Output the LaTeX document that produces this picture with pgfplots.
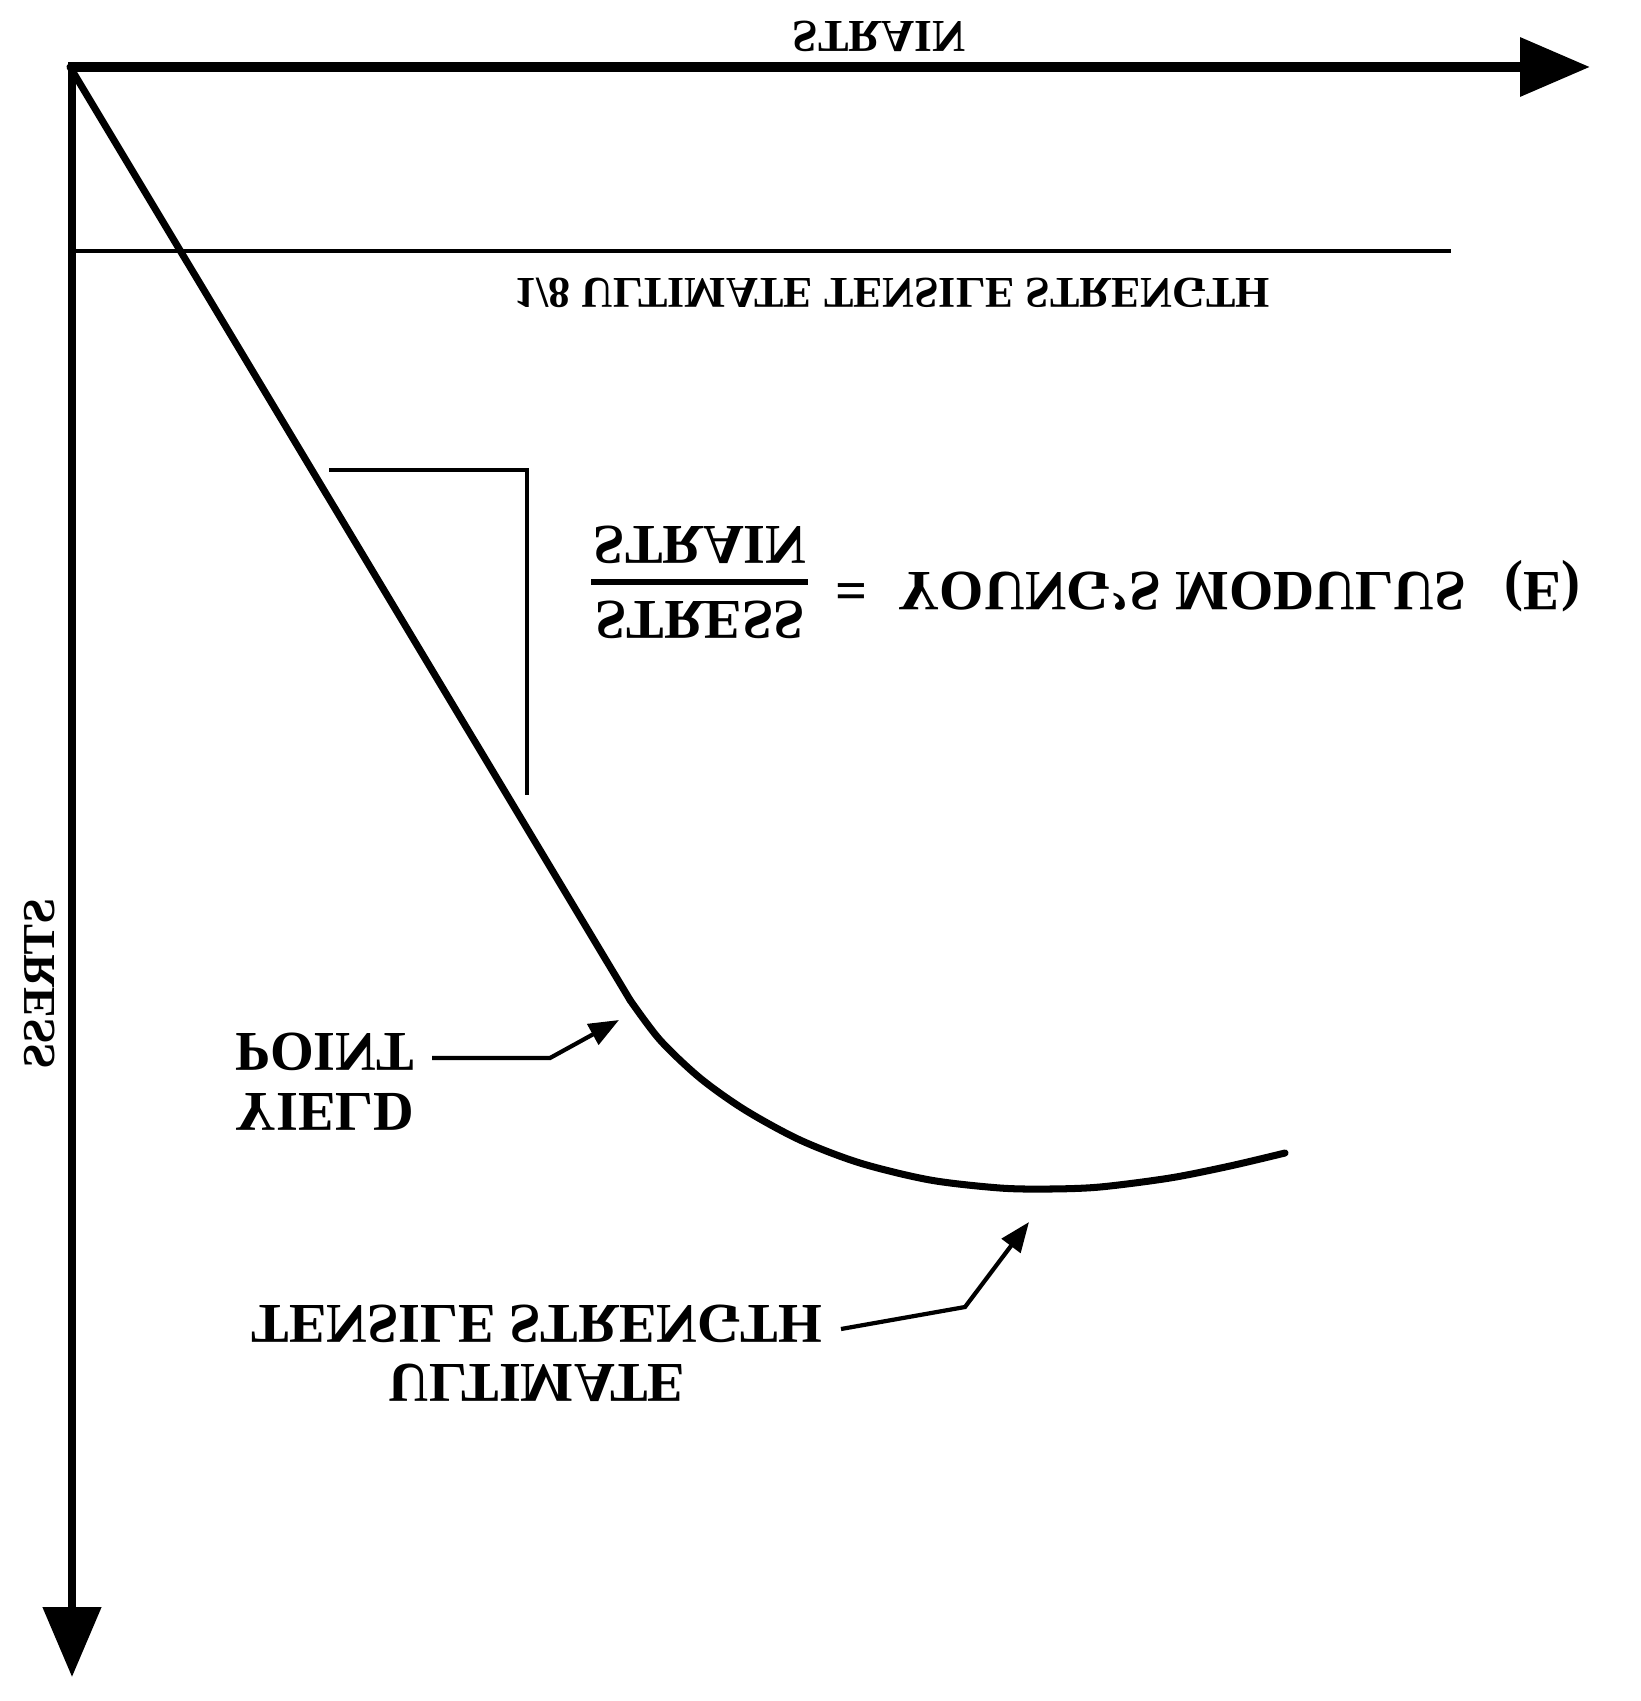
\documentclass[border=0pt]{standalone}
\usepackage{pgfplots}
\pgfplotsset{compat=1.18}
\usepackage{graphicx}
\usepackage{fontspec}
\setmainfont{Liberation Serif}
\usetikzlibrary{arrows.meta}
\newcommand{\flip}[2]{{\fontsize{#1}{#1}\selectfont\bfseries\scalebox{1}[-1]{#2}}}
\begin{document}
\begin{tikzpicture}
\begin{axis}[
  scale only axis, width=164mm, height=170.1mm,
  xmin=0, xmax=1640, ymin=0, ymax=1701, y dir=reverse,
  axis lines=none, clip=false,
]
\addplot[draw=none] coordinates {(0,0) (1640,1701)};
% axes
\addplot[black, line width=2.85pt, -{Triangle[length=7mm,width=5.7mm]}] coordinates {(68,67) (1590,67)};
\addplot[black, line width=2.3pt, -{Triangle[length=7mm,width=5.7mm]}] coordinates {(72,63) (72,1677)};
% 1/8 UTS line
\addplot[black, line width=1.15pt] coordinates {(72,251) (1451,251)};
% slope triangle
\addplot[black, line width=1.4pt] coordinates {(329,470) (527,470) (527,795)};
% stress-strain curve: linear part
\addplot[black, line width=2pt, line cap=round] coordinates {(70,67) (630,1000)};
% plastic part
\addplot[black, line width=2pt, smooth, line cap=round] coordinates {
 (630,1000) (660,1040) (700,1078) (745,1110) (800,1140) (860,1163) (930,1180)
 (1000,1188) (1050,1189) (1100,1187) (1170,1178) (1230,1166) (1285,1153)};
% fraction bar
\addplot[black, line width=1.6pt] coordinates {(591,582) (808,582)};
% yield arrow
\addplot[black, line width=1.2pt, -{Triangle[length=3mm,width=2.3mm]}] coordinates {(432,1058) (550,1058) (619,1020)};
% UTS arrow
\addplot[black, line width=1.2pt, -{Triangle[length=3mm,width=2.3mm]}] coordinates {(841,1329) (965,1307) (1029,1222)};
% texts
\node at (axis cs:879,36) {\flip{13pt}{STRAIN}};
\node at (axis cs:892,293) {\flip{12.5pt}{1/8 ULTIMATE TENSILE STRENGTH}};
\node at (axis cs:700,545) {\flip{16pt}{STRAIN}};
\node at (axis cs:700,620) {\flip{16pt}{STRESS}};
\node at (axis cs:852,586) {\flip{16pt}{=}};
\node[anchor=west, inner sep=0pt] at (axis cs:898,586) {\flip{16.2pt}{YOUNG'S MODULUS\ \ \,(E)}};
\node[anchor=west, inner sep=0pt] at (axis cs:235,1052) {\flip{16pt}{POINT}};
\node[anchor=west, inner sep=0pt] at (axis cs:235,1112) {\flip{16pt}{YIELD}};
\node at (axis cs:537,1324) {\flip{16pt}{TENSILE STRENGTH}};
\node at (axis cs:537,1383) {\flip{16pt}{ULTIMATE}};
\node[rotate=-90] at (axis cs:40,984) {\flip{13pt}{STRESS}};
\end{axis}
\end{tikzpicture}
\end{document}
